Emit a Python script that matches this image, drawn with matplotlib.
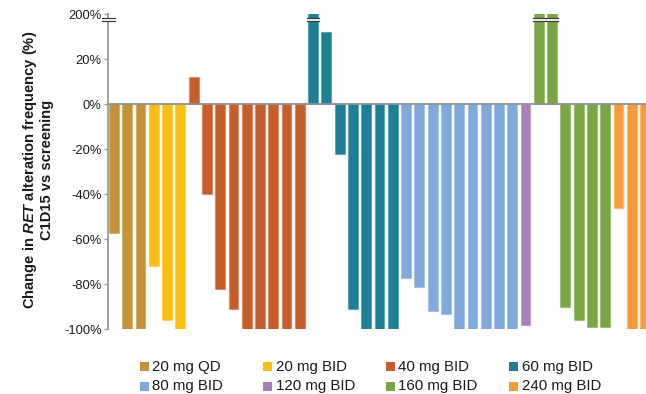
import matplotlib
matplotlib.use("Agg")
import matplotlib.pyplot as plt
from matplotlib.patches import Rectangle
from matplotlib.lines import Line2D
from matplotlib.colors import to_rgb

plt.rcParams['font.family'] = ['Liberation Sans', 'DejaVu Sans']
plt.rcParams['mathtext.fontset'] = 'custom'
plt.rcParams['mathtext.rm'] = 'Liberation Sans:weight=bold'
plt.rcParams['mathtext.it'] = 'Liberation Sans:style=italic:weight=bold'
plt.rcParams['mathtext.bf'] = 'Liberation Sans:weight=bold'

# Dose cohorts and per-patient change in RET alteration frequency (%)
groups = ["20 mg QD", "20 mg BID", "40 mg BID", "60 mg BID",
          "80 mg BID", "120 mg BID", "160 mg BID", "240 mg BID"]
colors = ["#C4923A", "#FBBF14", "#C75D2A", "#1C7F96",
          "#80A8D8", "#A680BA", "#78A642", "#F89A3A"]

qd_20 = [-57, -100, -100]
bid_20 = [-72, -96, -100]
bid_40 = [12, -40, -82, -91, -100, -100, -100, -100, -100]
bid_60 = [200, 32, -22, -91, -100, -100, -100]
bid_80 = [-77, -81, -92, -93, -100, -100, -100, -100, -100]
bid_120 = [-98]
bid_160 = [200, 200, -90, -96, -99, -99]
bid_240 = [-46, -100, -100]
values = [qd_20, bid_20, bid_40, bid_60, bid_80, bid_120, bid_160, bid_240]

# Axis is broken above 40: the top tick stands for 200%
y_top = 40
yticks = [-100, -80, -60, -40, -20, 0, 20, 40]
ytick_labels = ["-100%", "-80%", "-60%", "-40%", "-20%", "0%", "20%", "200%"]

W, H = 646, 394
fig = plt.figure(figsize=(W / 100, H / 100), dpi=100)
ax_left, ax_right, ax_top, ax_bottom = 108, 646, 14.3, 329.3
ax = fig.add_axes([ax_left / W, 1 - ax_bottom / H,
                   (ax_right - ax_left) / W, (ax_bottom - ax_top) / H])

bar_w = 0.74
pos = 0
broken = []
for vals, c in zip(values, colors):
    xs = list(range(pos, pos + len(vals)))
    ax.bar(xs, vals, width=bar_w, color=c,
           edgecolor=(*to_rgb(c), 0.4), linewidth=0.9, zorder=2)
    broken += [x for x, v in zip(xs, vals) if v > y_top]
    pos += len(vals)
n_bars = pos

ax.set_xlim(-0.452, n_bars - 1 + 0.075)
ax.set_ylim(-100, y_top)

# zero line
ax.axhline(0, color="#8f8f8f", lw=1.3, zorder=3)

# spines / ticks
for s in ["top", "right", "bottom"]:
    ax.spines[s].set_visible(False)
ax.spines["left"].set_color("#9a9a9a")
ax.spines["left"].set_linewidth(1.3)
ax.set_xticks([])
ax.set_yticks(yticks)
ax.set_yticklabels(ytick_labels)
ax.tick_params(axis="y", length=3, width=1.0, color="#9a9a9a",
               labelsize=9.3, labelcolor="#1a1a1a", pad=1.5)

# break marks (double line with white gap)
b_hi, b_lo = 38.2, 37.2


def break_mark(x0, x1):
    ax.add_patch(Rectangle((x0, b_lo), x1 - x0, b_hi - b_lo, facecolor="white",
                           edgecolor="none", zorder=5, clip_on=False))
    for yy in (b_hi, b_lo):
        ax.add_line(Line2D([x0, x1], [yy, yy], color="#3d3d3d", lw=0.9,
                           zorder=6, clip_on=False))


for x in broken:
    break_mark(x - 0.46, x + 0.46)
break_mark(-0.90, 0.07)

# y-axis title
fig.text(37.5 / W, 1 - 170 / H,
         "Change in $\\mathit{RET}$ alteration frequency (%)\nC1D15 vs screening",
         rotation=90, ha="center", va="center", multialignment="center",
         fontsize=10.6, fontweight="bold", color="#1a1a1a", linespacing=1.15)

# legend: 2 rows x 4 columns
for i, (g, c) in enumerate(zip(groups, colors)):
    col, row = i % 4, i // 4
    x0 = 140 + col * 123
    yc = 366.5 + row * 19.5
    fig.patches.append(Rectangle((x0 / W, 1 - (yc + 4.5) / H), 9 / W, 9 / H,
                                 transform=fig.transFigure, facecolor=c,
                                 edgecolor="none"))
    fig.text((x0 + 12.5) / W, 1 - yc / H, g, ha="left", va="center",
             fontsize=10.8, color="#1a1a1a")

fig.savefig("out.png", dpi=100)
